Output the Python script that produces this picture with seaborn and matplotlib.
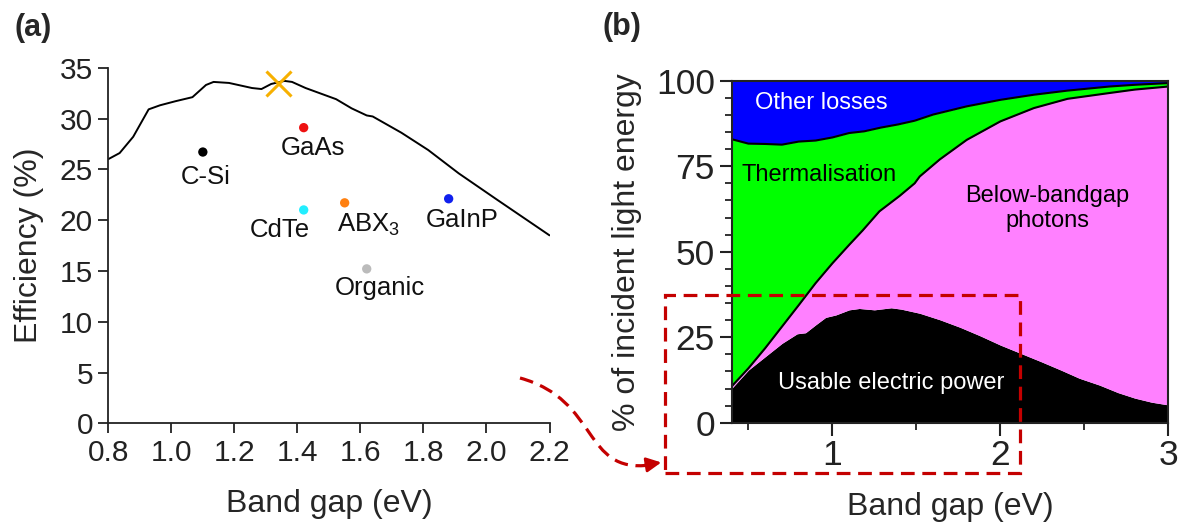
import numpy as np
import pandas as pd
import matplotlib
matplotlib.use("Agg")
import matplotlib.pyplot as plt
import seaborn as sns
from matplotlib.patches import Rectangle, PathPatch, FancyArrowPatch
from matplotlib.path import Path
from matplotlib.ticker import MultipleLocator

# ---------------- data: panel (a) ----------------
sq_gap = [0.80, 0.836, 0.879, 0.928, 0.964, 1.013, 1.067, 1.110, 1.134, 1.183, 1.256,
          1.286, 1.317, 1.359, 1.383, 1.426, 1.523, 1.572, 1.620, 1.639, 1.730, 1.815,
          1.912, 2.034, 2.20]
sq_eff = [26.0, 26.6, 28.2, 30.9, 31.3, 31.7, 32.1, 33.3, 33.6, 33.5, 33.0,
          32.9, 33.4, 33.7, 33.6, 33.0, 31.9, 31.0, 30.3, 30.2, 28.6, 26.9,
          24.6, 22.0, 18.5]
opt_gap = [1.34]
opt_eff = [33.5]

materials = ["C-Si", "GaAs", "CdTe", "ABX$_3$", "GaInP", "Organic"]
mat_gap = [1.10, 1.42, 1.42, 1.55, 1.88, 1.62]
mat_eff = [26.7, 29.1, 21.0, 21.7, 22.1, 15.2]
mat_colors = ["#000000", "#EE1111", "#22EEFF", "#FF8010", "#1020EE", "#BBBBBB"]
label_gap = [1.11, 1.448, 1.344, 1.627, 1.924, 1.663]
label_eff = [24.2, 27.1, 19.0, 19.5, 20.0, 13.3]

# ---------------- data: panel (b) ----------------
usable_gap = [0.40, 0.50, 0.60, 0.70, 0.79, 0.84, 0.90, 0.96, 1.02, 1.10, 1.16, 1.25,
              1.35, 1.41, 1.52, 1.64, 1.76, 1.88, 2.00, 2.12, 2.24, 2.36, 2.47, 2.59,
              2.70, 2.80, 2.90, 3.00]
usable = [10.0, 15.4, 19.3, 23.2, 26.0, 26.3, 28.6, 30.8, 31.5, 33.0, 33.4, 33.0,
          33.6, 33.2, 32.0, 30.1, 27.9, 25.4, 22.7, 20.3, 17.9, 15.4, 13.0, 11.0,
          8.8, 7.2, 6.0, 5.2]

below_gap = [0.40, 0.50, 0.60, 0.70, 0.80, 0.90, 1.00, 1.10, 1.18, 1.28, 1.40, 1.49,
             1.52, 1.64, 1.80, 2.00, 2.20, 2.40, 2.65, 2.80, 3.00]
below_top = [10.6, 15.9, 21.8, 28.1, 34.4, 40.8, 46.6, 52.0, 56.2, 61.8, 66.3, 70.0,
             72.0, 77.0, 82.7, 88.1, 92.0, 94.7, 96.4, 97.4, 98.3]

therm_gap = [0.40, 0.50, 0.60, 0.70, 0.80, 0.90, 1.00, 1.10, 1.19, 1.29, 1.39, 1.49,
             1.60, 1.80, 2.00, 2.20, 2.40, 2.65, 2.80, 3.00]
therm_top = [82.9, 81.6, 81.5, 81.3, 82.2, 82.5, 83.4, 84.7, 85.2, 86.3, 87.2, 88.3,
             90.1, 92.5, 94.4, 95.9, 97.1, 98.3, 98.8, 99.3]

# ---------------- style ----------------
sns.set_style("ticks")
plt.rcParams["font.family"] = ["Liberation Sans", "DejaVu Sans"]
plt.rcParams["mathtext.fontset"] = "custom"
plt.rcParams["mathtext.rm"] = "Liberation Sans"
plt.rcParams["mathtext.it"] = "Liberation Sans"

W, H = 1187, 524
fig = plt.figure(figsize=(W / 100, H / 100), dpi=100)


def fx(px):
    return px / W


def fy(py):
    return 1 - py / H


# ---------------- panel (a) ----------------
axa = fig.add_axes([fx(108.3), fy(423.3), fx(549.5) - fx(108.3), fy(67.7) - fy(423.3)])
df_sq = pd.DataFrame({"gap": sq_gap, "eff": sq_eff})
sns.lineplot(data=df_sq, x="gap", y="eff", ax=axa, color="black", lw=1.4, sort=False)
axa.plot(opt_gap, opt_eff, marker="x", ms=18, mew=2.2, color="#F7B000", ls="none")
df_mat = pd.DataFrame({"gap": mat_gap, "eff": mat_eff, "mat": materials})
sns.scatterplot(data=df_mat, x="gap", y="eff", hue="mat", palette=mat_colors,
                ax=axa, s=45, edgecolor="none", legend=False)
for name, gx, gy in zip(materials, label_gap, label_eff):
    axa.text(gx, gy, name, ha="center", va="center", fontsize=18.5, color="#111111")

axa.set_xlim(0.8, 2.2)
axa.set_ylim(0, 35)
xt = np.round(np.arange(0.8, 2.21, 0.2), 1)
axa.set_xticks(xt)
axa.set_xticklabels([f"{v:.1f}" for v in xt])
axa.set_yticks(np.arange(0, 36, 5))
axa.tick_params(axis="both", direction="out", length=7, width=1.3, labelsize=21.5,
                colors="#222222", pad=4)
for s in ["top", "right"]:
    axa.spines[s].set_visible(False)
for s in ["left", "bottom"]:
    axa.spines[s].set_linewidth(1.3)
    axa.spines[s].set_color("#222222")
axa.set_xlabel("Band gap (eV)", fontsize=23, labelpad=16)
axa.set_ylabel("Efficiency (%)", fontsize=23, labelpad=11)

# ---------------- panel (b) ----------------
axb = fig.add_axes([fx(731.6), fy(422.7), fx(1168.3) - fx(731.6), fy(80.7) - fy(422.7)])
grid = np.linspace(0.4, 3.0, 521)
u = np.interp(grid, usable_gap, usable)
bt = np.maximum(np.interp(grid, below_gap, below_top), u)
tt = np.interp(grid, therm_gap, therm_top)
axb.fill_between(grid, 0, u, color="black", lw=0)
axb.fill_between(grid, u, bt, color="#FF80FF", lw=0)
axb.fill_between(grid, bt, tt, color="#00FF00", lw=0)
axb.fill_between(grid, tt, 100, color="#0000FF", lw=0)
sns.lineplot(x=below_gap, y=below_top, ax=axb, color="black", lw=1.5)
sns.lineplot(x=therm_gap, y=therm_top, ax=axb, color="black", lw=1.5)

axb.text(0.933, 93.5, "Other losses", color="white", ha="center", va="center",
         fontsize=17)
axb.text(0.922, 72.5, "Thermalisation", color="black", ha="center", va="center",
         fontsize=17)
axb.text(2.28, 62.7, "Below-bandgap\nphotons", color="black", ha="center",
         va="center", fontsize=17, linespacing=1.2)
axb.text(1.353, 11.5, "Usable electric power", color="white", ha="center",
         va="center", fontsize=17)

axb.set_xlim(0.4, 3.0)
axb.set_ylim(0, 100)
axb.set_xticks([1, 2, 3])
axb.xaxis.set_minor_locator(MultipleLocator(0.5))
axb.set_yticks([0, 25, 50, 75, 100])
axb.yaxis.set_minor_locator(MultipleLocator(5))
axb.tick_params(axis="both", which="major", direction="out", length=9, width=1.5,
                labelsize=25.5, colors="#222222", pad=3)
axb.tick_params(axis="both", which="minor", direction="out", length=5, width=1.3,
                colors="#222222")
for s in axb.spines.values():
    s.set_linewidth(1.5)
    s.set_color("#222222")
axb.set_xlabel("Band gap (eV)", fontsize=23, labelpad=14)
axb.set_ylabel("% of incident light energy", fontsize=23, labelpad=10)

# ---------------- panel labels ----------------
fig.text(fx(15), fy(28), "(a)", fontsize=22, fontweight="bold", va="center",
         ha="left")
fig.text(fx(603), fy(27), "(b)", fontsize=22, fontweight="bold", va="center",
         ha="left")

# ---------------- red dashed zoom box & arrow ----------------
red = "#C40000"
dash = (0, (4.3, 2.4))
rect = Rectangle((fx(665), fy(472.7)), fx(1020) - fx(665), fy(295) - fy(472.7),
                 transform=fig.transFigure, fill=False, edgecolor=red, lw=2.3,
                 ls=dash, clip_on=False)
fig.add_artist(rect)

verts = [(fx(520), fy(378)), (fx(600), fy(400)), (fx(582), fy(474)), (fx(650), fy(465))]
path = Path(verts, [Path.MOVETO, Path.CURVE4, Path.CURVE4, Path.CURVE4])
fig.add_artist(PathPatch(path, transform=fig.transFigure, fill=False,
                         edgecolor=red, lw=2.3, ls=dash))
fig.add_artist(FancyArrowPatch((fx(642), fy(465.5)), (fx(664), fy(462)),
                               transform=fig.transFigure, arrowstyle="-|>",
                               mutation_scale=22, color=red, lw=2))

fig.savefig("out.png", dpi=100)
